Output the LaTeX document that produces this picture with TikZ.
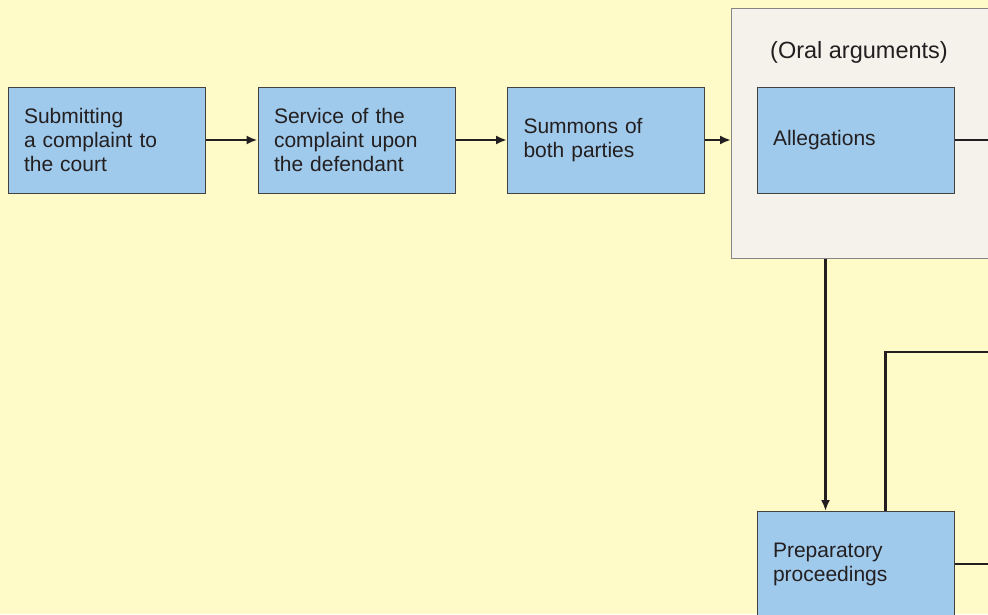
\documentclass[tikz,border=0pt]{standalone}
\usepackage{fontspec}
\setmainfont{Liberation Sans}
\usetikzlibrary{calc,arrows.meta}
\definecolor{bgyellow}{HTML}{FFFBC9}
\definecolor{boxblue}{HTML}{A0CAEC}
\definecolor{panelgray}{HTML}{F5F2EC}
\definecolor{inkdark}{HTML}{231F20}
\tikzset{
  stepbox/.style={draw=inkdark!85, fill=boxblue, line width=1pt, minimum width=197,
    minimum height=106, text width=165, inner xsep=16, align=left, text=inkdark,
    font=\fontsize{21}{24}\selectfont},
  panel/.style={draw=inkdark!55, fill=panelgray, line width=1.3pt, anchor=north west,
    minimum width=380, minimum height=250, inner sep=0pt},
  flow/.style={line width=2.8pt, draw=inkdark},
}
\begin{document}
\begin{tikzpicture}[x=1pt,y=-1pt,>={Latex[length=11pt,width=9pt]}]
% background and frame
\useasboundingbox[fill=bgyellow] (0,0) rectangle (988,614);
\clip (0,0) rectangle (988,614);

% the oral arguments panel
\node[panel] (oral) at (731,8) {};
\node[text=inkdark, font=\fontsize{23.5}{24}\selectfont] (oraltitle) at (859,52) {(Oral arguments)};

% steps
\node[stepbox] (submit) at (106.5,140) {Submitting\\a complaint to\\the court};
\node[stepbox] (service) at (356.5,140) {Service of the\\complaint upon\\the defendant};
\node[stepbox] (summons) at (606,140) {Summons of\\both parties};
\node[stepbox] (alleg) at (855.5,140) {Allegations};
\node[stepbox, anchor=north] (prep) at (855.5,511) {Preparatory\\proceedings};

% free ends at the right edge
\coordinate (allegout) at (990,140);
\coordinate (backin) at (990,352);
\coordinate (prepout) at (990,564);

% connectors
\draw[flow,->] (submit) -- (service);
\draw[flow,->] (service) -- (summons);
\draw[flow,->] (summons) -- (summons -| oral.west);
\draw[flow] (alleg) -- (allegout);
\draw[flow,->] ([xshift=-30]prep.north |- oral.south) -- ([xshift=-30]prep.north);
\draw[flow] ([xshift=30]prep.north) |- (backin);
\draw[flow] (prep.east |- prepout) -- (prepout);

\end{tikzpicture}
\end{document}
